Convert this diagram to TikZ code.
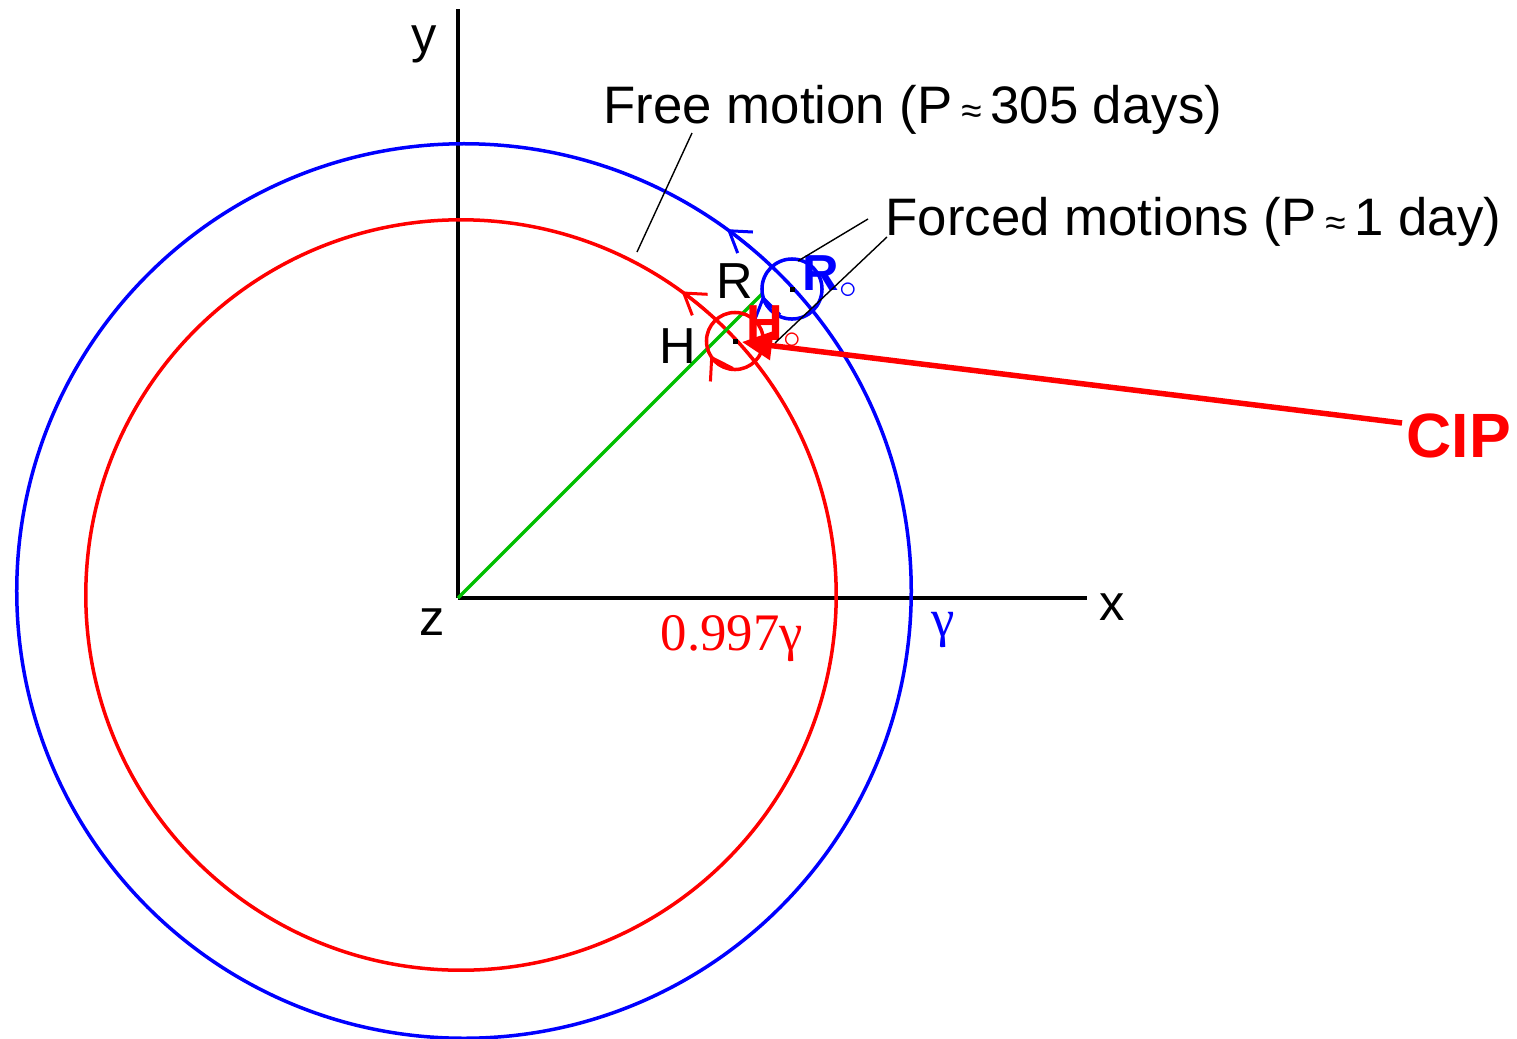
\documentclass[tikz,border=0pt]{standalone}
\usepackage{fontspec}
\setmainfont{Liberation Sans}
\newfontfamily\seriffont{Liberation Serif}
\usetikzlibrary{arrows.meta,calc}
\begin{document}
\begin{tikzpicture}[x=0.01cm,y=-0.01cm,
  lbl/.style={font=\fontsize{14.4}{17}\selectfont, inner sep=0pt},
  txt/.style={font=\fontsize{15}{18}\selectfont, inner sep=0pt, anchor=base west},
  axis/.style={black, line width=0.035cm},
  orbit/.style={line width=0.035cm},
  barb/.style={-{Straight Barb[length=0.2cm,width=0.26cm,line width=0.03cm]}, line width=0.03cm},
  leader/.style={black, line width=0.014cm},
  dotmark/.style={fill=black, inner sep=0pt, minimum size=0.05cm, rectangle}
]
\useasboundingbox (0,0) rectangle (1517,1039);
% axes
\coordinate (O) at (458,598);
\coordinate (Ytop) at (458,9);
\coordinate (Xend) at (1087,598);
\draw[axis] (O) -- (Ytop);
\draw[axis] (O) -- (Xend);
% big circles
\coordinate (CB) at (464,591);
\coordinate (CR) at (461,595);
\draw[orbit, blue] (CB) circle[radius=4.47cm];
\draw[orbit, red] (CR) circle[radius=3.75cm];
\draw[barb, blue] ($(CB)+(50:4.47cm)$) arc[start angle=50, end angle=54, radius=4.47cm];
\draw[barb, red] ($(CR)+(49:3.75cm)$) arc[start angle=49, end angle=54, radius=3.75cm];
% green radius
\coordinate (G) at (763,293);
\draw[green!75!black, line width=0.035cm] (O) -- (G);
% small circles
\coordinate (SB) at (792,289);
\coordinate (SR) at (735,341);
\draw[orbit, blue] (SB) circle[radius=0.30cm];
\draw[orbit, red] (SR) circle[radius=0.285cm];
\draw[barb, blue] ($(SB)+(222:0.30cm)$) arc[start angle=222, end angle=192, radius=0.30cm];
\draw[barb, red] ($(SR)+(245:0.285cm)$) arc[start angle=245, end angle=210, radius=0.285cm];
\node[dotmark] (db) at (SB) {};
\node[dotmark] (dr) at (SR) {};
% labels at small circles
\node[lbl] (R) at (735,281) {R};
\node[lbl] (H) at (678,346) {H};
\node[lbl, blue, anchor=base west] (Ro) at (802,290) {\textbf{R}\raisebox{-0.3ex}{\fontsize{10}{11}\selectfont$\circ$}};
\node[lbl, red, anchor=base west] (Ho) at (746,340) {\textbf{H}\raisebox{-0.3ex}{\fontsize{10}{11}\selectfont$\circ$}};
% CIP arrow
\node[font=\fontsize{17.8}{20}\selectfont\bfseries, red, anchor=base west, inner sep=0pt] (CIP) at (1406,457) {CIP};
\coordinate (CIPtail) at (1402,423);
\coordinate (CIPtip) at (742,342);
\draw[red, line width=0.055cm, -{Triangle[length=0.3cm,width=0.28cm]}] (CIPtail) -- (CIPtip);
% texts
\node[txt] (free) at (603,123) {Free motion (P\,{\fontsize{10.5}{12}\selectfont≈}\,305 days)};
\node[txt] (forced) at (885,235) {Forced motions (P\,{\fontsize{10.5}{12}\selectfont≈}\,1 day)};
% leaders
\coordinate (f1) at (692,133);
\coordinate (f2) at (637,252);
\draw[leader] (f1) -- (f2);
\coordinate (g1) at (868,219);
\coordinate (g2) at (798,261);
\draw[leader] (g1) -- (g2);
\coordinate (h1) at (887,237);
\coordinate (h2) at (775,343);
\draw[leader] (h1) -- (h2);
% axis labels
\node[lbl] (ylab) at (424,44) {y};
\node[lbl] (xlab) at (1112,607) {x};
\node[lbl] (zlab) at (432,622) {z};
\node[font=\seriffont\fontsize{15}{17}\selectfont, red, anchor=base west, inner sep=0pt] (g997) at (660,650) {0.997γ};
\node[font=\seriffont\fontsize{15}{17}\selectfont, blue, anchor=base west, inner sep=0pt] (gam) at (931,636) {γ};
\end{tikzpicture}
\end{document}
